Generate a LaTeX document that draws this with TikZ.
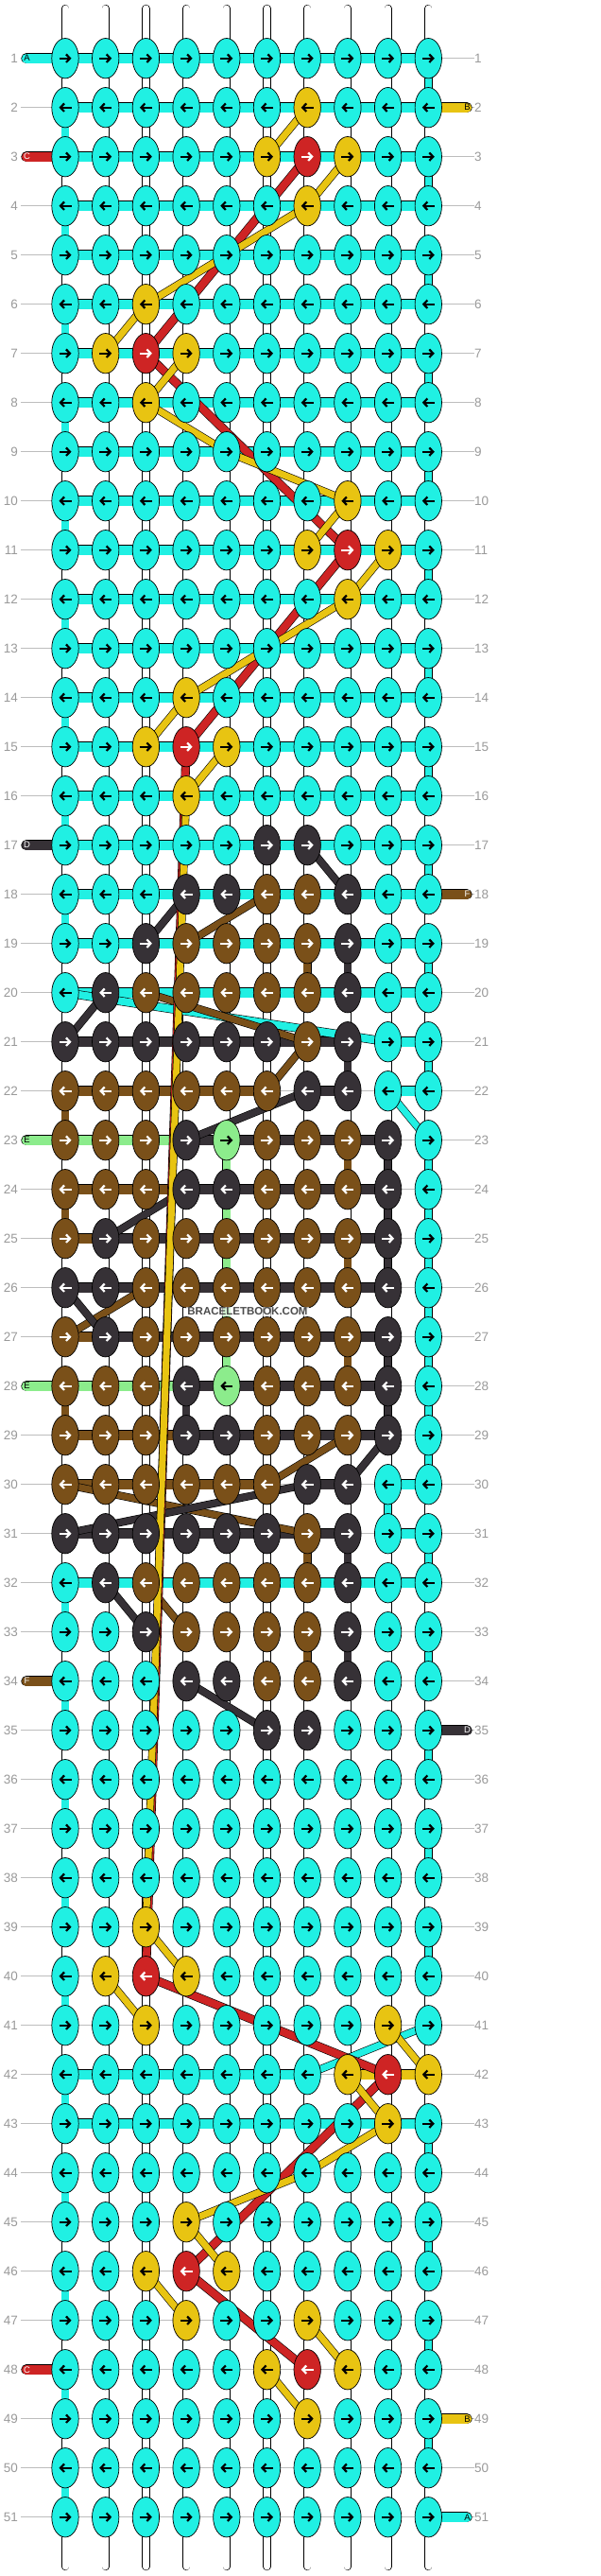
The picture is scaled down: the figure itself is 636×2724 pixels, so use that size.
\documentclass[tikz,border=0pt]{standalone}
\usepackage{fontspec}
\setmainfont{Liberation Sans}
\usetikzlibrary{arrows.meta,shapes.geometric,calc}
\definecolor{kc}{HTML}{20F0E3}
\definecolor{ky}{HTML}{E8C412}
\definecolor{kr}{HTML}{CE2424}
\definecolor{kd}{HTML}{363136}
\definecolor{kb}{HTML}{7A5019}
\definecolor{kg}{HTML}{8CEC8C}
\colorlet{ac}{black}\colorlet{ay}{black}\colorlet{ag}{black}
\colorlet{ar}{white}\colorlet{ad}{white}\colorlet{ab}{white}
\definecolor{numgray}{HTML}{9A9A9A}
\definecolor{guidegray}{HTML}{BDBDBD}
\begin{document}
\begin{tikzpicture}[x=1pt,y=-1pt,
  guide/.style={draw=guidegray,line width=0.8pt},
  num/.style={text=numgray,font=\fontsize{13.5}{14}\selectfont,inner sep=0pt},
  vstr/.style={draw=black,line width=0.6pt,double=white,double distance=7pt,line cap=round},
  conn/.style={draw=black,line width=0.6pt,double distance=10pt},
  vconn/.style={draw=black,line width=0.6pt,double distance=7.5pt},
  flt/.style={draw=black,line width=0.6pt,double distance=7pt,line join=round},
  band/.style={draw=black,line width=0.6pt,double distance=10pt,line cap=round},
  knot/.style={ellipse,draw=black,line width=0.7pt,minimum width=28.4pt,minimum height=42.4pt,inner sep=0pt},
  arr/.style={line width=2.2pt},
  lett/.style={font=\fontsize{9.5}{10}\selectfont,inner sep=0pt},
  wm/.style={fill=white,fill opacity=0.65,text opacity=1,text=black!70,font=\bfseries\fontsize{11.5}{12}\selectfont,inner sep=1pt}]
\fill[white] (0,0) rectangle (636,2724);
\useasboundingbox (0,0) rectangle (636,2724);

% coordinates
\foreach \n in {1,...,51}{
  \foreach \i in {1,...,10}{
    \coordinate (p-\n-\i) at ({69+42.7*(\i-1)},{61.7+52*(\n-1)});
  }
  \coordinate (gl-\n) at (22,{61.7+52*(\n-1)});
  \coordinate (gr-\n) at (502,{61.7+52*(\n-1)});
  \coordinate (bl-\n) at (28,{61.7+52*(\n-1)});
  \coordinate (br-\n) at (494,{61.7+52*(\n-1)});
}
\foreach \i in {1,...,10}{
  \coordinate (st-\i) at ({69+42.7*(\i-1)},9);
  \coordinate (sb-\i) at ({69+42.7*(\i-1)},2714);
}

% guide lines and row numbers
\foreach \n in {1,...,51}{
  \draw[guide] (gl-\n) -- (gr-\n);
  \node[num,anchor=east] (ln-\n) at ($(gl-\n)+(-3,0)$) {\n};
}
\foreach \n in {1,...,51}{
  \node[num,anchor=west] (rn-\n) at (gr-\n) {\n};
}

% base strings
\foreach \i in {1,...,10}{
  \draw[vstr] (st-\i) -- (sb-\i);
}

% horizontal connectors, plain rows
\foreach \n in {1,...,20,32,...,41,43,...,51}{
  \foreach \i in {1,...,9}{
    \pgfmathtruncatemacro\j{\i+1}
    \draw[conn,double=kc] (p-\n-\i) -- (p-\n-\j);
  }
}
% horizontal connectors, special rows
\foreach \n/\wa/\wb/\wc/\wd/\we/\wf/\wg/\wh/\wi in {
 21/d/d/d/d/d/d/d/n/c,
 22/b/b/b/b/b/n/d/n/c,
 23/g/g/g/d/d/d/d/d/n,
 24/b/b/b/d/d/d/d/d/n,
 25/b/d/d/d/d/d/d/d/n,
 26/d/d/d/d/d/d/d/d/n,
 27/b/d/d/d/d/d/d/d/n,
 28/g/g/g/d/d/d/d/d/n,
 29/b/b/b/d/d/d/d/d/n,
 30/b/b/b/b/b/n/d/n/c,
 31/d/d/d/d/d/d/d/n/c,
 42/c/c/c/c/c/c/n/y/y}{
  \foreach \i/\hh in {1/\wa,2/\wb,3/\wc,4/\wd,5/\we,6/\wf,7/\wg,8/\wh,9/\wi}{
    \if\hh n\else
      \pgfmathtruncatemacro\j{\i+1}
      \draw[conn,double=k\hh] (p-\n-\i) -- (p-\n-\j);
    \fi
  }
}

% cyan turn-around connectors (string A)
\foreach \n in {1,...,50}{
  \ifodd\n\relax \def\col{10}\else \def\col{1}\fi
  \ifnum\n>22\relax \ifnum\n<30\relax \def\col{10}\fi\fi
  \ifnum\n=30\relax \def\col{9}\fi
  \pgfmathtruncatemacro\m{\n+1}
  \ifnum\n=20\relax\else\ifnum\n=22\relax\else\ifnum\n=41\relax\else
    \draw[vconn,double=kc] (p-\n-\col) -- (p-\m-\col);
  \fi\fi\fi
}
% other coloured vertical connectors
\foreach \n/\i/\cc in {19/7/b,19/8/d,21/8/d,22/1/b,23/5/g,23/8/b,23/9/d,24/1/b,24/5/g,24/9/d,
  25/5/g,25/8/b,25/9/d,26/5/g,27/5/g,27/8/b,27/9/d,28/1/b,28/4/d,28/9/d,31/7/b,31/8/d,33/7/b,33/8/d}{
  \pgfmathtruncatemacro\m{\n+1}
  \draw[vconn,double=k\cc] (p-\n-\i) -- (p-\m-\i);
}

% edge bands
\foreach \n/\cc/\L in {1/c/A,3/r/C,17/d/D,23/g/E,28/g/E,34/b/F,48/r/C}{
  \draw[band,double=k\cc] (bl-\n) -- (p-\n-1);
  \node[lett,text=a\cc] (la-\n) at ($(bl-\n)+(0.5,0)$) {\L};
}
\foreach \n/\cc/\L in {2/y/B,18/b/F,35/d/D,49/y/B,51/c/A}{
  \draw[band,double=k\cc] (p-\n-10) -- (br-\n);
  \node[lett,text=a\cc] (ra-\n) at ($(br-\n)+(0.5,0)$) {\L};
}

% floating strings: cyan
\draw[flt,double=kc,double distance=8pt] (p-20-1) -- (p-21-9);
\draw[flt,double=kc] (p-22-9) -- (p-23-10);
\draw[flt,double=kc] (p-41-10) -- (p-42-7);
% brown
\foreach \a/\b in {18-6/19-4,20-3/21-7,21-7/22-6,26-3/27-1,29-8/30-6,30-1/31-7,32-3/33-4}{
  \draw[flt,double=kb] (p-\a) -- (p-\b);
}
% dark
\foreach \a/\b in {17-7/18-8,18-4/19-3,20-2/21-1,22-7/23-4,24-4/25-2,26-1/27-2,29-9/30-8,30-7/31-1,32-2/33-3,34-4/35-6}{
  \draw[flt,double=kd] (p-\a) -- (p-\b);
}
% red
\foreach \a/\b in {3-7/7-3,7-3/11-8,11-8/15-4,15-4/40-3,40-3/42-9,42-9/46-4,46-4/48-7}{
  \draw[flt,double=kr,double distance=8pt] (p-\a) -- (p-\b);
}
% yellow
\foreach \a/\b in {2-7/3-6,3-8/4-7,6-3/7-2,7-4/8-3,10-8/11-7,11-9/12-8,14-4/15-3,15-5/16-4,16-4/39-3,
  39-3/40-4,40-2/41-3,41-9/42-10,42-8/43-9,45-4/46-5,46-3/47-4,47-7/48-8,48-6/49-7}{
  \draw[flt,double=ky] (p-\a) -- (p-\b);
}
\draw[flt,double=ky] (p-4-7) -- (p-5-5) -- (p-6-3);
\draw[flt,double=ky] (p-8-3) -- (p-9-5) -- (p-10-8);
\draw[flt,double=ky] (p-12-8) -- (p-13-6) -- (p-14-4);
\draw[flt,double=ky] (p-43-9) -- (p-44-7) -- (p-45-4);

% knots
\foreach \n/\qa/\qb/\qc/\qd/\qe/\qf/\qg/\qh/\qi/\qj in {
 1/c/c/c/c/c/c/c/c/c/c,
 2/c/c/c/c/c/c/y/c/c/c,
 3/c/c/c/c/c/y/r/y/c/c,
 4/c/c/c/c/c/c/y/c/c/c,
 5/c/c/c/c/c/c/c/c/c/c,
 6/c/c/y/c/c/c/c/c/c/c,
 7/c/y/r/y/c/c/c/c/c/c,
 8/c/c/y/c/c/c/c/c/c/c,
 9/c/c/c/c/c/c/c/c/c/c,
 10/c/c/c/c/c/c/c/y/c/c,
 11/c/c/c/c/c/c/y/r/y/c,
 12/c/c/c/c/c/c/c/y/c/c,
 13/c/c/c/c/c/c/c/c/c/c,
 14/c/c/c/y/c/c/c/c/c/c,
 15/c/c/y/r/y/c/c/c/c/c,
 16/c/c/c/y/c/c/c/c/c/c,
 17/c/c/c/c/c/d/d/c/c/c,
 18/c/c/c/d/d/b/b/d/c/c,
 19/c/c/d/b/b/b/b/d/c/c,
 20/c/d/b/b/b/b/b/d/c/c,
 21/d/d/d/d/d/d/b/d/c/c,
 22/b/b/b/b/b/b/d/d/c/c,
 23/b/b/b/d/g/b/b/b/d/c,
 24/b/b/b/d/d/b/b/b/d/c,
 25/b/d/b/b/b/b/b/b/d/c,
 26/d/d/b/b/b/b/b/b/d/c,
 27/b/d/b/b/b/b/b/b/d/c,
 28/b/b/b/d/g/b/b/b/d/c,
 29/b/b/b/d/d/b/b/b/d/c,
 30/b/b/b/b/b/b/d/d/c/c,
 31/d/d/d/d/d/d/b/d/c/c,
 32/c/d/b/b/b/b/b/d/c/c,
 33/c/c/d/b/b/b/b/d/c/c,
 34/c/c/c/d/d/b/b/d/c/c,
 35/c/c/c/c/c/d/d/c/c/c,
 36/c/c/c/c/c/c/c/c/c/c,
 37/c/c/c/c/c/c/c/c/c/c,
 38/c/c/c/c/c/c/c/c/c/c,
 39/c/c/y/c/c/c/c/c/c/c,
 40/c/y/r/y/c/c/c/c/c/c,
 41/c/c/y/c/c/c/c/c/y/c,
 42/c/c/c/c/c/c/c/y/r/y,
 43/c/c/c/c/c/c/c/c/y/c,
 44/c/c/c/c/c/c/c/c/c/c,
 45/c/c/c/y/c/c/c/c/c/c,
 46/c/c/y/r/y/c/c/c/c/c,
 47/c/c/c/y/c/c/y/c/c/c,
 48/c/c/c/c/c/y/r/y/c/c,
 49/c/c/c/c/c/c/y/c/c/c,
 50/c/c/c/c/c/c/c/c/c/c,
 51/c/c/c/c/c/c/c/c/c/c}{
  \foreach \i/\kk in {1/\qa,2/\qb,3/\qc,4/\qd,5/\qe,6/\qf,7/\qg,8/\qh,9/\qi,10/\qj}{
    \node[knot,fill=k\kk] (k-\n-\i) at (p-\n-\i) {};
    \ifodd\n\relax
      \draw[arr,draw=a\kk,-{Straight Barb[length=4pt,width=8.5pt]}] (k-\n-\i.center) ++(-6.5,0) -- ++(13,0);
    \else
      \draw[arr,draw=a\kk,-{Straight Barb[length=4pt,width=8.5pt]}] (k-\n-\i.center) ++(6.5,0) -- ++(-13,0);
    \fi
  }
}

% watermark
\node[wm] (wm) at (262,1387) {BRACELETBOOK.COM};
\end{tikzpicture}
\end{document}
